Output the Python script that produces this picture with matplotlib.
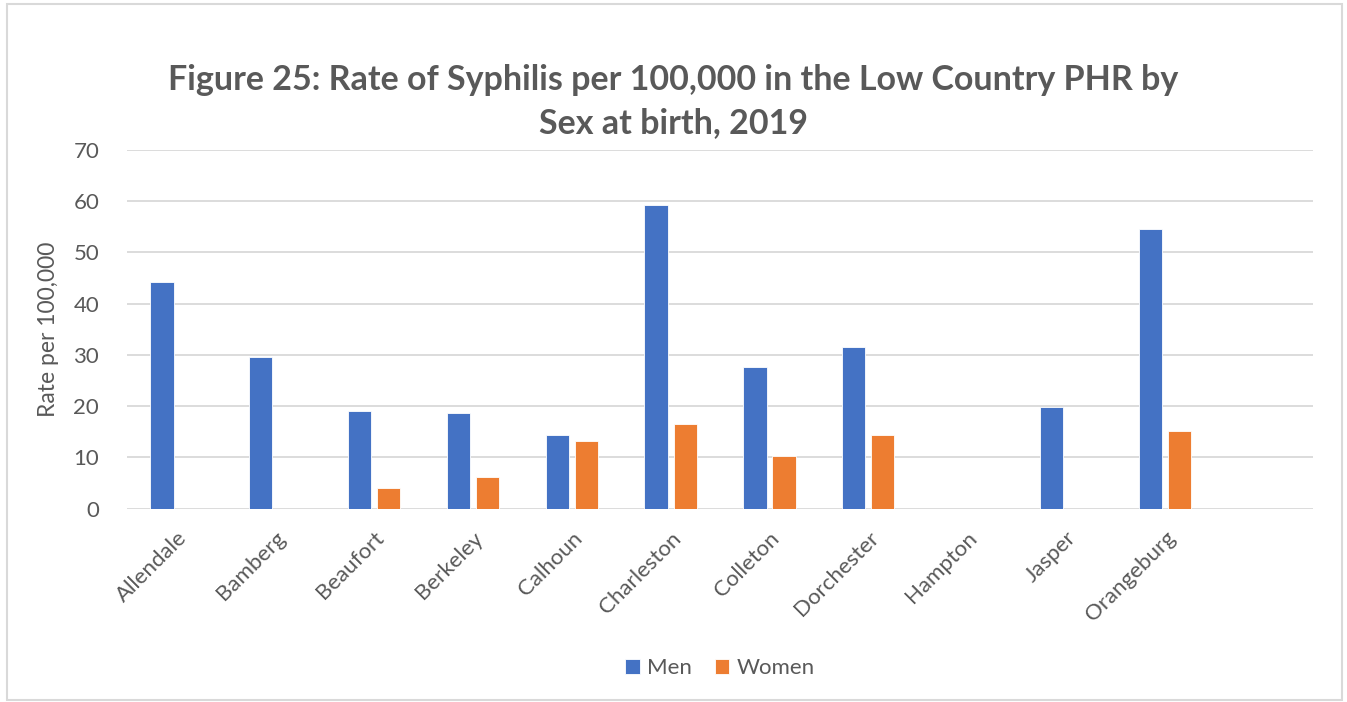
import numpy as np
import matplotlib
matplotlib.use('agg')
import matplotlib.pyplot as plt
from matplotlib.patches import Rectangle

# values
counties = ["Allendale", "Bamberg", "Beaufort", "Berkeley", "Calhoun", "Charleston",
            "Colleton", "Dorchester", "Hampton", "Jasper", "Orangeburg"]
men = [44.2, 29.6, 19.0, 18.6, 14.3, 59.3, 27.6, 31.5, 0.0, 19.8, 54.6]
women = [0.0, 0.0, 4.1, 6.1, 13.2, 16.6, 10.2, 14.3, 0.0, 0.0, 15.2]

BLUE = "#4472C4"
ORANGE = "#ED7D31"
GRAY = "#595959"

plt.rcParams['font.family'] = ['Lato', 'DejaVu Sans']

fig = plt.figure(figsize=(13.47, 7.02), dpi=100)
ax = fig.add_axes([0.0943, 0.2756, 0.8805, 0.5107])

# light border round the whole chart
fig.patches.append(Rectangle((0.005, 0.003), 0.991, 0.992, transform=fig.transFigure,
                             fill=False, edgecolor="#D9D9D9", linewidth=1.5))

x = np.arange(len(counties))
w = 0.235
ax.bar(x - 0.147, men, w, color=BLUE, label="Men", edgecolor="white", linewidth=0.6, zorder=3)
ax.bar(x + 0.147, women, w, color=ORANGE, label="Women", edgecolor="white", linewidth=0.6, zorder=3)

ax.set_xlim(-0.5, len(counties) + 0.5)
ax.set_ylim(0, 70)
ax.set_yticks(range(0, 71, 10))
ax.grid(axis='y', color="#D9D9D9", linewidth=1.3, zorder=0)
for s in ax.spines.values():
    s.set_visible(False)
ax.tick_params(axis='both', length=0, colors=GRAY, labelsize=16)
ax.tick_params(axis='y', pad=20)
ax.set_xticks(x)
ax.set_xticklabels(counties, rotation=45, ha='right', rotation_mode='anchor')
ax.tick_params(axis='x', pad=14)

ax.set_ylabel("Rate per 100,000", color=GRAY, fontsize=16.5, labelpad=10)

fig.text(0.5, 0.856, "Figure 25: Rate of Syphilis per 100,000 in the Low Country PHR by\nSex at birth, 2019",
         ha='center', va='center', fontsize=24.5, fontweight='bold', color=GRAY, linespacing=1.42)

ax.legend(loc='center', bbox_to_anchor=(0.5, -0.445), ncol=2, frameon=False,
          fontsize=16, handlelength=0.65, handleheight=0.65, handletextpad=0.35,
          columnspacing=1.0, labelcolor=GRAY)

plt.savefig("out.png", dpi=100)
